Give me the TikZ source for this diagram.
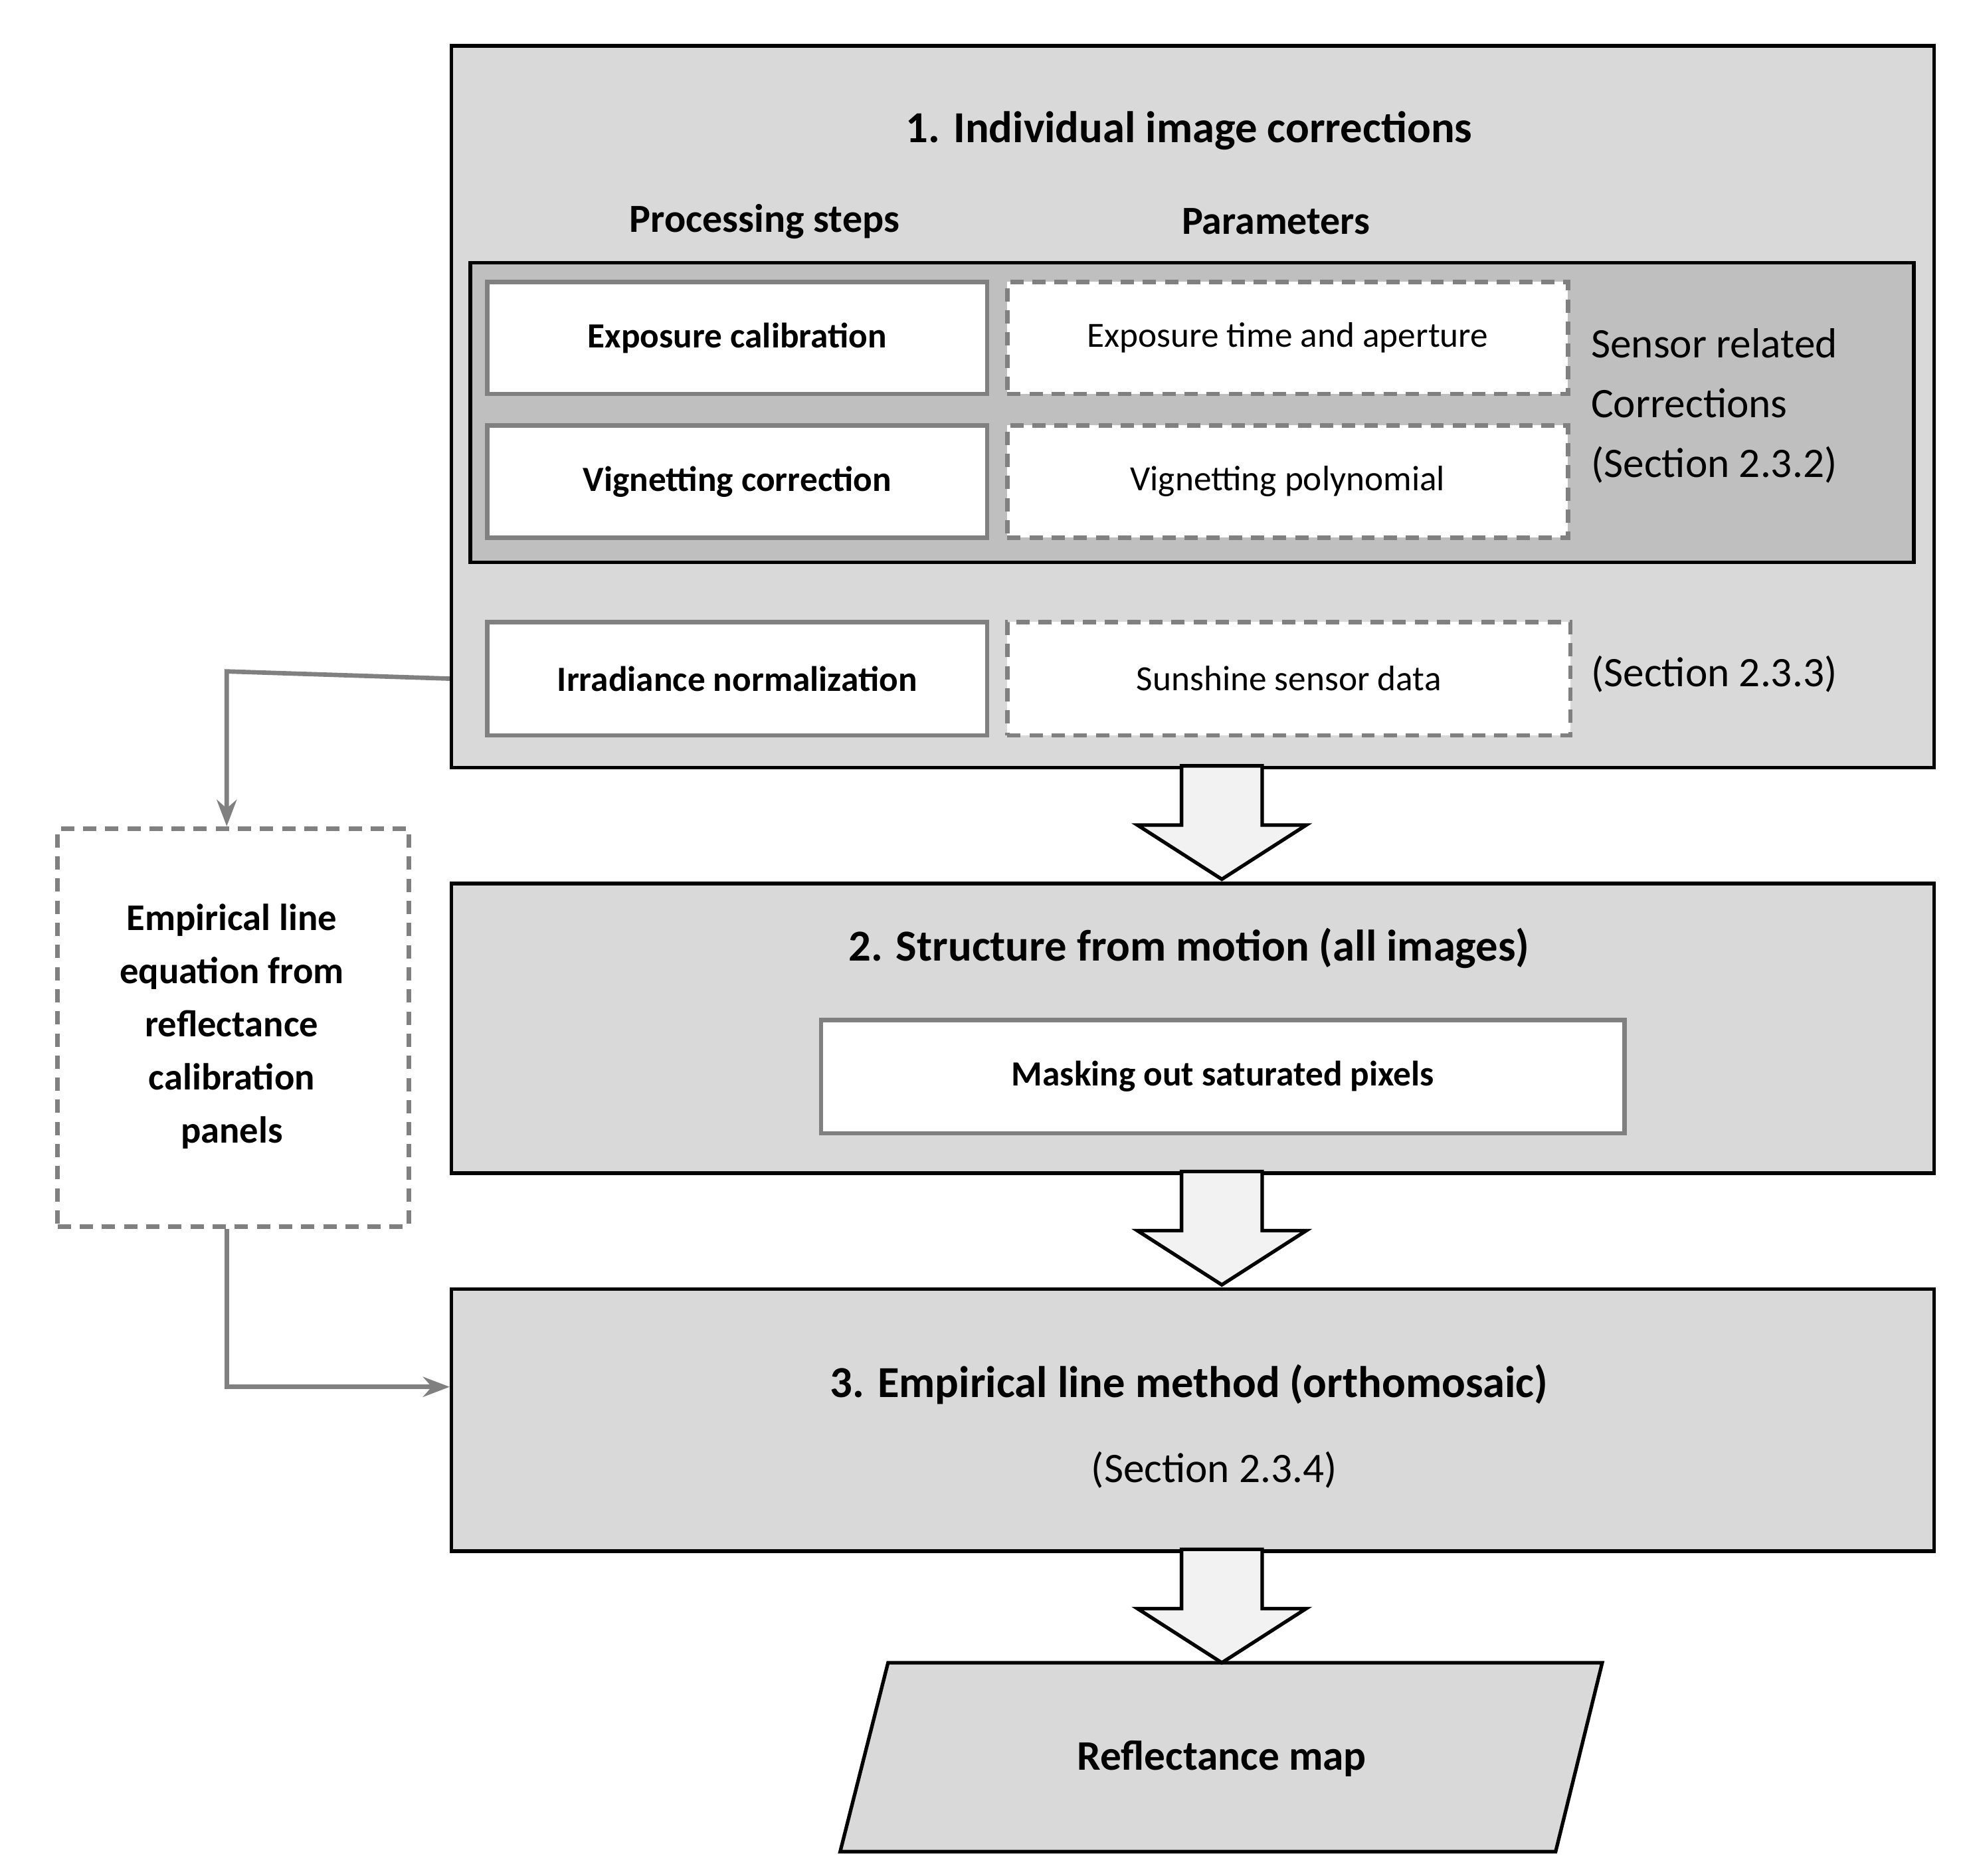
\documentclass[tikz,border=0pt]{standalone}
\usepackage{fontspec}
\setmainfont{Carlito}
\usetikzlibrary{arrows.meta}
\definecolor{bg}{HTML}{D9D9D9}
\definecolor{dk}{HTML}{BFBFBF}
\definecolor{gr}{HTML}{808080}
\definecolor{ar}{HTML}{F2F2F2}
\begin{document}
\begin{tikzpicture}[x=0.02cm,y=-0.02cm,
  big/.style={draw=black,line width=1.6pt,fill=bg},
  pstep/.style={draw=gr,line width=2pt,fill=white,font=\fontsize{16}{19}\selectfont\bfseries},
  par/.style={draw=gr,line width=2pt,dashed,dash pattern=on 6pt off 4pt,fill=white,font=\fontsize{16}{19}\selectfont},
  ttl/.style={font=\fontsize{20}{24}\selectfont\bfseries},
  conn/.style={draw=gr,line width=2pt,-{Stealth[length=12pt,width=9pt]}},
  barrow/.style={draw=black,line width=1.6pt,fill=ar}]
\useasboundingbox (0,0) rectangle (1560,1489);
% box 1
\node[big,minimum width=1177*0.02cm,minimum height=573*0.02cm,anchor=north west] (b1) at (357,35) {};
\node[ttl] (t1) at (944,104) {1. Individual image corrections};
\node[ttl,font=\fontsize{18}{22}\selectfont\bfseries] (ps) at (607,176) {Processing steps};
\node[ttl,font=\fontsize{18}{22}\selectfont\bfseries] (pa) at (1013,176) {Parameters};
\node[draw=black,line width=1.6pt,fill=dk,minimum width=1146*0.02cm,minimum height=238*0.02cm,anchor=north west] (sens) at (372,207) {};
\node[pstep,minimum width=397*0.02cm,minimum height=89*0.02cm,anchor=north west] (ec) at (385,222) {Exposure calibration};
\node[par,minimum width=445*0.02cm,minimum height=89*0.02cm,anchor=north west] (et) at (798,222) {Exposure time and aperture};
\node[pstep,minimum width=397*0.02cm,minimum height=89*0.02cm,anchor=north west] (vc) at (385,336) {Vignetting correction};
\node[par,minimum width=445*0.02cm,minimum height=89*0.02cm,anchor=north west] (vp) at (798,336) {Vignetting polynomial};
\node[anchor=west,align=left,font=\fontsize{19}{27}\selectfont] (sr) at (1257,322) {Sensor related\\Corrections\\(Section 2.3.2)};
\node[pstep,minimum width=397*0.02cm,minimum height=90*0.02cm,anchor=north west] (ir) at (385,492) {Irradiance normalization};
\node[par,minimum width=447*0.02cm,minimum height=90*0.02cm,anchor=north west] (ss) at (798,492) {Sunshine sensor data};
\node[anchor=west,font=\fontsize{19}{23}\selectfont] (s3) at (1257,535) {(Section 2.3.3)};
% box 2
\node[big,minimum width=1177*0.02cm,minimum height=230*0.02cm,anchor=north west] (b2) at (357,700) {};
\node[ttl] (t2) at (944,753) {2. Structure from motion (all images)};
\node[pstep,minimum width=638*0.02cm,minimum height=90*0.02cm,anchor=north west] (mk) at (650,808) {Masking out saturated pixels};
% box 3
\node[big,minimum width=1177*0.02cm,minimum height=208*0.02cm,anchor=north west] (b3) at (357,1022) {};
\node[ttl] (t3) at (944,1099) {3. Empirical line method (orthomosaic)};
\node[font=\fontsize{19}{23}\selectfont] (s4) at (964,1167) {(Section 2.3.4)};
% output
\draw[big] (705,1320) -- (1272,1320) -- (1235,1470) -- (667,1470) -- cycle;
\node[ttl,font=\fontsize{19}{23}\selectfont\bfseries] (rm) at (970,1396) {Reflectance map};
% left box
\node[par,fill=white,minimum width=279*0.02cm,minimum height=316*0.02cm,anchor=north west] (el) at (44,656) {};
\node[align=center,font=\fontsize{17}{24}\selectfont\bfseries] (elt) at (184,815) {Empirical line\\equation from\\reflectance\\calibration\\panels};
% block arrows
\foreach \t in {608,930,1230}{
 \draw[barrow] (938,\t) -- (1002,\t) -- (1002,\t+47) -- (1037,\t+47) -- (970,\t+90) -- (903,\t+47) -- (938,\t+47) -- cycle;}
% connectors
\coordinate (c1) at (180,533);
\coordinate (c2) at (180,1101);
\draw[conn] (b1.west |- ir) -- (c1) -- (el.north -| c1);
\draw[conn] (el.south -| c2) -- (c2) -- (b3.west |- c2);
\end{tikzpicture}
\end{document}
